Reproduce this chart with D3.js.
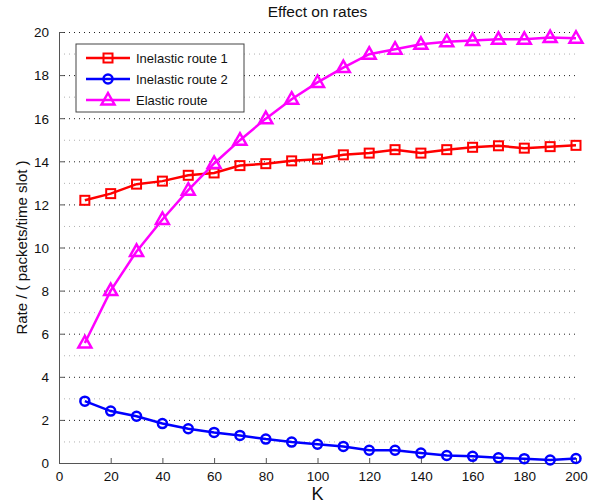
<!DOCTYPE html>
<html>
<head>
<meta charset="utf-8">
<script src="https://cdn.jsdelivr.net/npm/d3@7"></script>
<style>
  body { margin: 0; background: #fff; }
  text { font-family: "Liberation Sans", Arial, sans-serif; }
</style>
</head>
<body>
<div id="chart"></div>
<script>
// values
var kValues = [10, 20, 30, 40, 50, 60, 70, 80, 90, 100, 110, 120, 130, 140, 150, 160, 170, 180, 190, 200];
var inelastic1 = [12.19, 12.50, 12.94, 13.08, 13.35, 13.46, 13.80, 13.89, 14.02, 14.10, 14.30, 14.38, 14.54, 14.38, 14.54, 14.65, 14.72, 14.61, 14.68, 14.74];
var inelastic2 = [2.87, 2.41, 2.17, 1.83, 1.59, 1.42, 1.28, 1.11, 0.97, 0.87, 0.77, 0.59, 0.59, 0.46, 0.35, 0.31, 0.24, 0.20, 0.14, 0.21];
var elastic = [5.57, 8.0, 9.82, 11.3, 12.66, 13.9, 14.98, 15.98, 16.88, 17.66, 18.35, 18.97, 19.2, 19.43, 19.55, 19.61, 19.66, 19.66, 19.74, 19.71];
var seriesNames = ['Inelastic route 1', 'Inelastic route 2', 'Elastic route'];
var xTicks = [0, 20, 40, 60, 80, 100, 120, 140, 160, 180, 200];
var yTicks = [0, 2, 4, 6, 8, 10, 12, 14, 16, 18, 20];
var yMinor = [1, 3, 5, 7, 9, 11, 13, 15, 17, 19];

var series = [
    {name: seriesNames[0], values: inelastic1, color: '#ff0000', marker: 'square'},
    {name: seriesNames[1], values: inelastic2, color: '#0000ff', marker: 'circle'},
    {name: seriesNames[2], values: elastic, color: '#ff00ff', marker: 'triangle'}
];

var margin = {top: 32, right: 33, bottom: 41, left: 59};
var W = 609, H = 504;
var width = W - margin.left - margin.right, height = H - margin.top - margin.bottom;

var svg = d3.select('#chart').append('svg')
    .attr('width', W)
    .attr('height', H);

var x = d3.scaleLinear().domain([0, 200]).range([0, width]);
var y = d3.scaleLinear().domain([0, 20]).range([height, 0]);

var g = svg.append('g').attr('transform', 'translate(' + margin.left + ',' + margin.top + ')');

// minor grid (lighter)
g.append('g')
    .attr('class', 'grid-minor')
    .call(d3.axisLeft(y).tickValues(yMinor).tickSize(-width).tickFormat(''))
    .call(function (s) {
        s.select('.domain').remove();
        s.selectAll('line').attr('stroke', '#b0b0b0').attr('stroke-dasharray', '1,4');
    });

// major grid
g.append('g')
    .attr('class', 'grid-major')
    .call(d3.axisLeft(y).tickValues(yTicks.slice(1)).tickSize(-width).tickFormat(''))
    .call(function (s) {
        s.select('.domain').remove();
        s.selectAll('line').attr('stroke', '#222').attr('stroke-dasharray', '1,4');
    });

// axes, ticks pointing inwards like matlab
var yAxis = g.append('g')
    .call(d3.axisLeft(y).tickValues(yTicks).tickSizeInner(-5).tickSizeOuter(0).tickPadding(10));
var xAxis = g.append('g')
    .attr('transform', 'translate(0,' + height + ')')
    .call(d3.axisBottom(x).tickValues(xTicks).tickSizeInner(-5).tickSizeOuter(0).tickPadding(8));

[yAxis, xAxis].forEach(function (a) {
    a.select('.domain').attr('stroke', '#555').attr('stroke-width', 1);
    a.selectAll('line').attr('stroke', '#555');
    a.selectAll('text').style('font-size', '13.5px').attr('fill', '#111')
        .style('font-family', '"Liberation Sans", Arial, sans-serif');
});
yAxis.selectAll('text').attr('dy', '0.36em');
xAxis.selectAll('text').attr('dy', '0.75em');

// lines
var line = d3.line()
    .x(function (d, i) { return x(kValues[i]); })
    .y(function (d) { return y(d); });

function drawMarker(sel, type, color) {
    if (type === 'square') {
        sel.append('rect').attr('x', -4.5).attr('y', -4.5).attr('width', 9).attr('height', 9)
            .attr('fill', 'none').attr('stroke', color).attr('stroke-width', 2);
    } else if (type === 'circle') {
        sel.append('circle').attr('r', 4.5)
            .attr('fill', 'none').attr('stroke', color).attr('stroke-width', 2.5);
    } else {
        sel.append('path').attr('d', 'M0,-7L6.5,4.5L-6.5,4.5Z')
            .attr('fill', 'none').attr('stroke', color).attr('stroke-width', 2.5)
            .attr('stroke-linejoin', 'miter');
    }
}

series.forEach(function (s) {
    g.append('path')
        .datum(s.values)
        .attr('fill', 'none')
        .attr('stroke', s.color)
        .attr('stroke-width', 2.5)
        .attr('d', line);

    g.selectAll('.m-' + s.marker)
        .data(s.values)
        .enter().append('g')
        .attr('class', 'm-' + s.marker)
        .attr('transform', function (d, i) { return 'translate(' + x(kValues[i]) + ',' + y(d) + ')'; })
        .each(function () { drawMarker(d3.select(this), s.marker, s.color); });
});

// title and labels
svg.append('text')
    .attr('x', margin.left + width / 2)
    .attr('y', 17)
    .attr('text-anchor', 'middle')
    .style('font-size', '15.5px')
    .attr('fill', '#111')
    .text('Effect on rates');

svg.append('text')
    .attr('x', margin.left + width / 2)
    .attr('y', 500)
    .attr('text-anchor', 'middle')
    .style('font-size', '18px')
    .attr('fill', '#111')
    .text('K');

svg.append('text')
    .attr('transform', 'translate(27,' + (margin.top + height / 2) + ') rotate(-90)')
    .attr('text-anchor', 'middle')
    .style('font-size', '15px')
    .attr('fill', '#111')
    .text('Rate / ( packets/time slot )');

// legend
var legend = svg.append('g').attr('transform', 'translate(76,44)');
legend.append('rect')
    .attr('width', 168).attr('height', 68)
    .attr('fill', '#fff').attr('stroke', '#444').attr('stroke-width', 1);

series.forEach(function (s, i) {
    var ly = 14 + i * 21;
    var item = legend.append('g').attr('transform', 'translate(0,' + ly + ')');
    item.append('line').attr('x1', 10).attr('x2', 54).attr('y1', 0).attr('y2', 0)
        .attr('stroke', s.color).attr('stroke-width', 2.5);
    var mk = item.append('g').attr('transform', 'translate(32,0)');
    drawMarker(mk, s.marker, s.color);
    item.append('text').attr('x', 60).attr('y', 0).attr('dy', '0.36em')
        .style('font-size', '13px').attr('fill', '#111')
        .text(s.name);
});
</script>
</body>
</html>
